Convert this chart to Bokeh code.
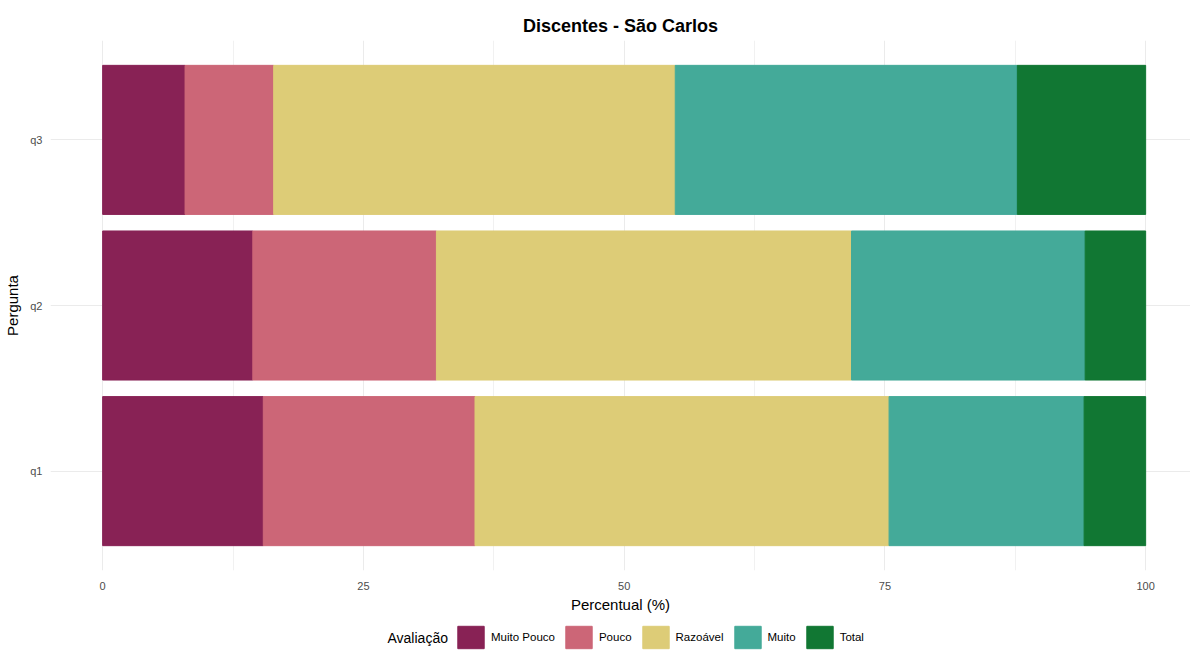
from bokeh.plotting import figure
from bokeh.layouts import column
from bokeh.models import ColumnDataSource, Range1d, FixedTicker, Legend, LegendItem, Label
from bokeh.embed import file_html
from bokeh.resources import INLINE

# ---- data ----
questions = ["q1", "q2", "q3"]
levels = ["Muito Pouco", "Pouco", "Razoável", "Muito", "Total"]
muito_pouco = [15.4, 14.4, 7.9]
pouco = [20.3, 17.6, 8.5]
razoavel = [39.7, 39.8, 38.5]
muito = [18.7, 22.4, 32.8]
total = [5.9, 5.8, 12.3]
x_ticks = [0, 25, 50, 75, 100]
x_minor_ticks = [12.5, 37.5, 62.5, 87.5]
colors = ["#882255", "#CC6677", "#DDCC77", "#44AA99", "#117733"]

FONT = "Liberation Sans"
GRID = "#ebebeb"
W = 1190

ypos = [i + 1 for i in range(len(questions))]
source = ColumnDataSource(data={
    "y": ypos,
    "Muito Pouco": muito_pouco,
    "Pouco": pouco,
    "Razoável": razoavel,
    "Muito": muito,
    "Total": total,
})

p = figure(width=W, height=618, output_backend="svg", toolbar_location=None,
           x_range=Range1d(-5, 104.3), y_range=Range1d(0.4, len(questions) + 0.6),
           title="Discentes - São Carlos",
           min_border_left=50, min_border_right=0, min_border_top=40, min_border_bottom=48)

p.hbar_stack(levels, y="y", height=0.9, color=colors, source=source)

# title
p.title.align = "center"
p.title.text_font = FONT
p.title.text_font_size = "18px"
p.title.text_font_style = "bold"
p.title.text_color = "#000000"
p.title.standoff = 9

# x axis
p.xaxis.ticker = FixedTicker(ticks=x_ticks, minor_ticks=x_minor_ticks)
p.xaxis.axis_label = "Percentual (%)"
p.xaxis.major_label_standoff = 5
p.xaxis.axis_label_standoff = 3

# y axis
p.yaxis.ticker = FixedTicker(ticks=ypos)
p.yaxis.major_label_overrides = {y: q for y, q in zip(ypos, questions)}
p.yaxis.axis_label = "Pergunta"
p.yaxis.major_label_standoff = 2
p.yaxis.axis_label_standoff = 6

for ax in (p.xaxis, p.yaxis):
    ax.axis_line_color = None
    ax.major_tick_line_color = None
    ax.minor_tick_line_color = None
    ax.major_label_text_font = FONT
    ax.major_label_text_font_size = "11px"
    ax.major_label_text_color = "#4d4d4d"
    ax.axis_label_text_font = FONT
    ax.axis_label_text_font_size = "15px"
    ax.axis_label_text_font_style = "normal"
    ax.axis_label_text_color = "#000000"

# grids
p.xgrid.ticker = FixedTicker(ticks=x_ticks, minor_ticks=x_minor_ticks)
p.xgrid.grid_line_color = GRID
p.xgrid.minor_grid_line_color = GRID
p.xgrid.minor_grid_line_width = 0.7
p.ygrid.ticker = FixedTicker(ticks=ypos)
p.ygrid.grid_line_color = GRID
p.outline_line_color = None

# ---- legend strip (separate figure below the chart) ----
q = figure(width=W, height=33, output_backend="svg", toolbar_location=None,
           x_range=Range1d(0, 1), y_range=Range1d(10, 11),
           x_axis_type=None, y_axis_type=None, min_border=0)
q.outline_line_color = None
legend_renderers = q.hbar_stack(levels, y="y", height=0.9, color=colors, source=source)

items = [LegendItem(label=lv, renderers=[r]) for lv, r in zip(levels, legend_renderers)]
legend = Legend(items=items, orientation="horizontal", location=(404, 0),
                glyph_width=33, glyph_height=28, label_standoff=4, spacing=7,
                padding=0, margin=0, border_line_color=None, background_fill_alpha=0,
                label_text_font=FONT, label_text_font_size="11.5px", label_text_color="#000000")
q.add_layout(legend, "center")

legend_title = Label(x=337, y=14, x_units="screen", y_units="screen", text="Avaliação",
                     text_font=FONT, text_font_size="14px", text_color="#000000",
                     text_baseline="middle", text_align="left")
q.add_layout(legend_title)

open("out.html", "w").write(file_html(column(p, q, spacing=0), INLINE))
